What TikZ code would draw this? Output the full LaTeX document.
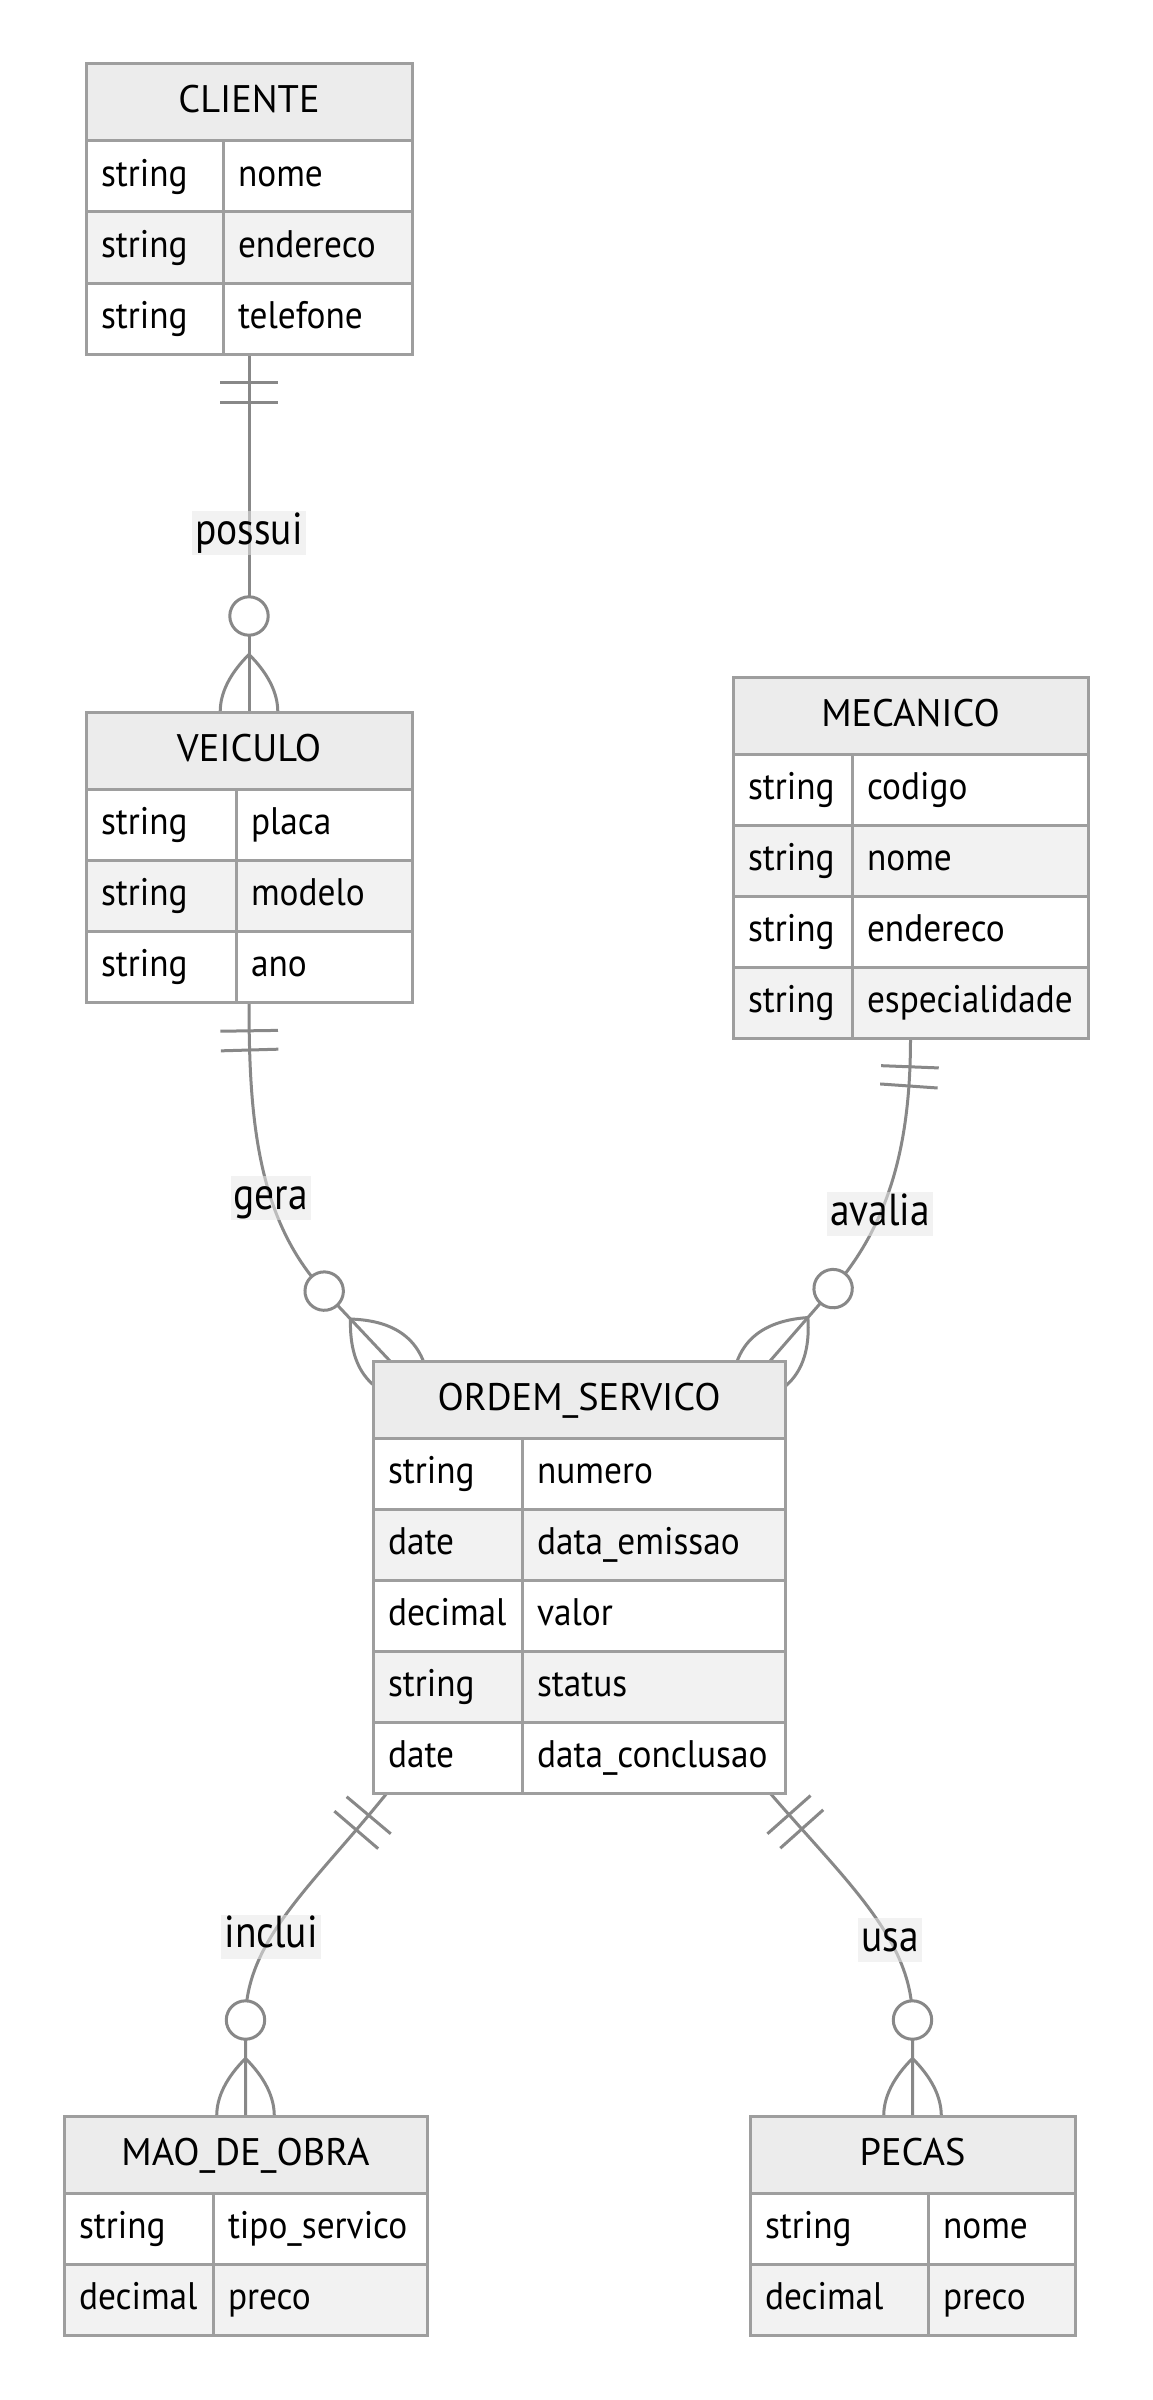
\documentclass[tikz,border=0pt]{standalone}
\usepackage{fontspec}
\setmainfont{PT Sans}
\newfontfamily\attrfamily{PT Sans}[FakeStretch=0.92]
\newfontfamily\headfamily{PT Sans}
\newfontfamily\labelfamily{PT Sans}[FakeStretch=0.88]
\usepackage{tikz}
\usetikzlibrary{calc}
\usetikzlibrary{backgrounds}
\usetikzlibrary{decorations.markings}
\definecolor{boxline}{HTML}{9E9E9E}
\definecolor{linegray}{HTML}{888888}
\definecolor{headfill}{HTML}{ECECEC}
\definecolor{evenfill}{HTML}{F2F2F2}
\definecolor{labelbg}{HTML}{E8E8E8}

\begin{document}
\begin{tikzpicture}[x=1pt,y=-1pt]
        \tikzset{ehead/.style = {font=\headfamily\fontsize{38.4}{46}\selectfont, draw=boxline, fill=headfill, line width=3pt,
                 outer sep=0pt, anchor=north west, minimum height=77pt, inner xsep=0pt, text height=27pt, text depth=6pt}}
        \tikzset{cell/.style = {font=\attrfamily\fontsize{38.4}{46}\selectfont, draw=boxline, line width=3pt, outer sep=0pt,
                 anchor=north west, minimum height=71pt, inner xsep=15pt, inner ysep=0pt, text width=#1, align=left,
                 text height=27pt, text depth=7.5pt}}
        \tikzset{eframe/.style = {draw=boxline, line width=3pt, outer sep=0pt, inner sep=0pt, anchor=north west}}
        \tikzset{rel/.style = {draw=linegray, line width=3pt}}
        \tikzset{elabel/.style = {font=\labelfamily\fontsize{44.8}{52}\selectfont, fill=labelbg, fill opacity=0.55, text opacity=1,
                 inner xsep=3pt, inner ysep=0pt, minimum height=44pt, text height=31pt, text depth=9pt}}
        \tikzset{onlyone/.style = {postaction={decorate, decoration={markings,
                 mark=at position 28.8pt with {\draw[rel] (0pt,-28.8pt) -- (0pt,28.8pt);},
                 mark=at position 48pt with {\draw[rel] (0pt,-28.8pt) -- (0pt,28.8pt);}}}}}
        \tikzset{zeromany/.style = {postaction={decorate, decoration={markings,
                 mark=at position -96pt with {\draw[rel, fill=white] (0pt,0pt) circle[radius=19.2pt];},
                 mark=at position -0.5pt with {\draw[rel] (-57.1pt,0pt) .. controls (-18.7pt,38.4pt) and (19.7pt,38.4pt) .. (58.1pt,0pt)
                        .. controls (19.7pt,-38.4pt) and (-18.7pt,-38.4pt) .. (-57.1pt,0pt);}}}}}

        \useasboundingbox (0,0) rectangle (1152,2400);

        % cliente
        \node[ehead, minimum width=326pt] (cliente-h) at (86,64) {CLIENTE};
        \node[cell=107pt, fill=white] (cliente-t1) at (86,141) {string};
        \node[cell=159pt, fill=white] (cliente-n1) at (223,141) {nome};
        \node[cell=107pt, fill=evenfill] (cliente-t2) at (86,212) {string};
        \node[cell=159pt, fill=evenfill] (cliente-n2) at (223,212) {endereco};
        \node[cell=107pt, fill=white] (cliente-t3) at (86,283) {string};
        \node[cell=159pt, fill=white] (cliente-n3) at (223,283) {telefone};
        \node[eframe, minimum width=326pt, minimum height=290pt] (cliente) at (86,64) {};

        % veiculo
        \node[ehead, minimum width=326pt] (veiculo-h) at (86,712) {VEICULO};
        \node[cell=120pt, fill=white] (veiculo-t1) at (86,789) {string};
        \node[cell=146pt, fill=white] (veiculo-n1) at (236,789) {placa};
        \node[cell=120pt, fill=evenfill] (veiculo-t2) at (86,860) {string};
        \node[cell=146pt, fill=evenfill] (veiculo-n2) at (236,860) {modelo};
        \node[cell=120pt, fill=white] (veiculo-t3) at (86,931) {string};
        \node[cell=146pt, fill=white] (veiculo-n3) at (236,931) {ano};
        \node[eframe, minimum width=326pt, minimum height=290pt] (veiculo) at (86,712) {};

        % mecanico
        \node[ehead, minimum width=355pt] (mecanico-h) at (733,677) {MECANICO};
        \node[cell=89pt, fill=white] (mecanico-t1) at (733,754) {string};
        \node[cell=206pt, fill=white] (mecanico-n1) at (852,754) {codigo};
        \node[cell=89pt, fill=evenfill] (mecanico-t2) at (733,825) {string};
        \node[cell=206pt, fill=evenfill] (mecanico-n2) at (852,825) {nome};
        \node[cell=89pt, fill=white] (mecanico-t3) at (733,896) {string};
        \node[cell=206pt, fill=white] (mecanico-n3) at (852,896) {endereco};
        \node[cell=89pt, fill=evenfill] (mecanico-t4) at (733,967) {string};
        \node[cell=206pt, fill=evenfill] (mecanico-n4) at (852,967) {especialidade};
        \node[eframe, minimum width=355pt, minimum height=361pt] (mecanico) at (733,677) {};

        % ordem de servico
        \node[ehead, minimum width=412pt] (ordem-h) at (373,1361) {ORDEM\_SERVICO};
        \node[cell=119pt, fill=white] (ordem-t1) at (373,1438) {string};
        \node[cell=233pt, fill=white] (ordem-n1) at (522,1438) {numero};
        \node[cell=119pt, fill=evenfill] (ordem-t2) at (373,1509) {date};
        \node[cell=233pt, fill=evenfill] (ordem-n2) at (522,1509) {data\_emissao};
        \node[cell=119pt, fill=white] (ordem-t3) at (373,1580) {decimal};
        \node[cell=233pt, fill=white] (ordem-n3) at (522,1580) {valor};
        \node[cell=119pt, fill=evenfill] (ordem-t4) at (373,1651) {string};
        \node[cell=233pt, fill=evenfill] (ordem-n4) at (522,1651) {status};
        \node[cell=119pt, fill=white] (ordem-t5) at (373,1722) {date};
        \node[cell=233pt, fill=white] (ordem-n5) at (522,1722) {data\_conclusao};
        \node[eframe, minimum width=412pt, minimum height=432pt] (ordem) at (373,1361) {};

        % mao de obra
        \node[ehead, minimum width=363pt] (mao-h) at (64,2116) {MAO\_DE\_OBRA};
        \node[cell=119pt, fill=white] (mao-t1) at (64,2193) {string};
        \node[cell=184pt, fill=white] (mao-n1) at (213,2193) {tipo\_servico};
        \node[cell=119pt, fill=evenfill] (mao-t2) at (64,2264) {decimal};
        \node[cell=184pt, fill=evenfill] (mao-n2) at (213,2264) {preco};
        \node[eframe, minimum width=363pt, minimum height=219pt] (mao) at (64,2116) {};

        % pecas
        \node[ehead, minimum width=325pt] (pecas-h) at (750,2116) {PECAS};
        \node[cell=148pt, fill=white] (pecas-t1) at (750,2193) {string};
        \node[cell=117pt, fill=white] (pecas-n1) at (928,2193) {nome};
        \node[cell=148pt, fill=evenfill] (pecas-t2) at (750,2264) {decimal};
        \node[cell=117pt, fill=evenfill] (pecas-n2) at (928,2264) {preco};
        \node[eframe, minimum width=325pt, minimum height=219pt] (pecas) at (750,2116) {};

        % relationships, under the boxes
        \begin{scope}[on background layer]
        \fill[white] (0,0) rectangle (1152,2400);

        \coordinate (gera-end) at ($(ordem.north west)+(17,0)$);
        \coordinate (gera-bend) at ($(gera-end)+(-65.8,-69.9)$);
        \coordinate (avalia-end) at ($(ordem.north east)+(-15,0)$);
        \coordinate (avalia-bend) at ($(avalia-end)+(63.1,-72.4)$);
        \coordinate (inclui-start) at ($(ordem.south west)+(14,0)$);
        \coordinate (inclui-bend) at ($(mao.north)+(0,-96)$);
        \coordinate (usa-start) at ($(ordem.south east)+(-15,0)$);
        \coordinate (usa-bend) at ($(pecas.north)+(0,-96)$);

        \draw[rel, onlyone, zeromany] (cliente.south) -- node[elabel] (possui) {possui} (veiculo.north);
        \draw[rel, onlyone, zeromany] (veiculo.south) .. controls (249,1112) and (255.7,1218.3) ..
              node[elabel, pos=0.63] (gera) {gera} (gera-bend) -- (gera-end);
        \draw[rel, onlyone, zeromany] (mecanico.south) .. controls (910.5,1138) and (892.2,1220.7) ..
              node[elabel, pos=0.66] (avalia) {avalia} (avalia-bend) -- (avalia-end);
        \draw[rel, onlyone, zeromany] (inclui-start) .. controls (311.8,1886.4) and (245.5,1940) ..
              node[elabel, pos=0.62] (inclui) {inclui} (inclui-bend) -- (mao.north);
        \draw[rel, onlyone, zeromany] (usa-start) .. controls (848.5,1883.8) and (912.5,1940) ..
              node[elabel, pos=0.64] (usa) {usa} (usa-bend) -- (pecas.north);
        \end{scope}

\end{tikzpicture}
\end{document}
